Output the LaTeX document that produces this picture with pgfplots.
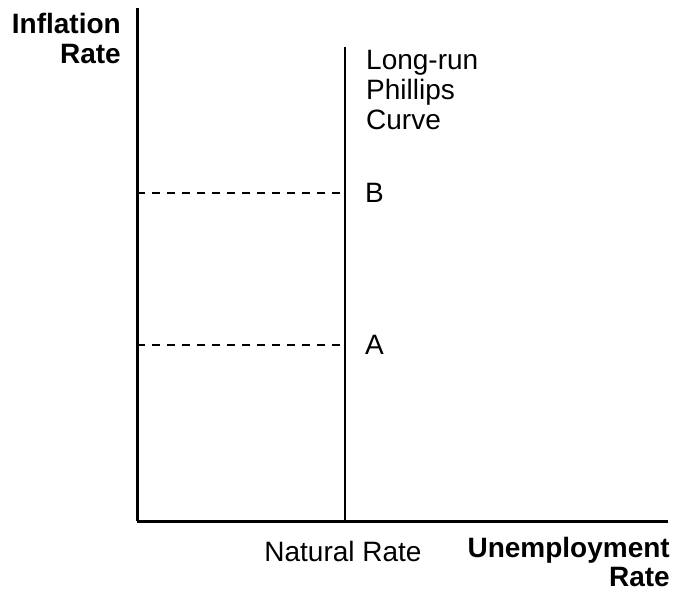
\documentclass[border=0pt]{standalone}
\usepackage{pgfplots}
\pgfplotsset{compat=1.18}
\usepackage{fontspec}
\setmainfont{Liberation Sans}
\begin{document}
\begin{tikzpicture}[x=1pt,y=1pt]
\begin{axis}[
  at={(0,0)}, anchor=south west,
  scale only axis, width=531pt, height=513pt,
  xmin=0, xmax=10, ymin=0, ymax=10,
  axis x line=bottom, axis y line=left,
  axis line style={line width=3pt, -},
  xtick=\empty, ytick=\empty,
  clip=false,
]
\addplot[line width=2.2pt, black] coordinates {(3.917,0) (3.917,9.24)};
\addplot[line width=2.2pt, black, dash pattern=on 8pt off 7pt] coordinates {(0,6.39) (3.917,6.39)};
\addplot[line width=2.2pt, black, dash pattern=on 8pt off 7pt] coordinates {(0,3.43) (3.917,3.43)};
\end{axis}
\fontsize{28}{31}\selectfont
\node[anchor=base east, inner sep=0, font=\bfseries] at (-16,487) {Inflation};
\node[anchor=base east, inner sep=0, font=\bfseries] at (-16,457) {Rate};
\node[anchor=base west, inner sep=0] at (229,451) {Long-run};
\node[anchor=base west, inner sep=0] at (229,421) {Phillips};
\node[anchor=base west, inner sep=0] at (229,391) {Curve};
\node[anchor=base west, inner sep=0] at (228,318) {B};
\node[anchor=base west, inner sep=0] at (228,166) {A};
\node[anchor=base, inner sep=0] at (206,-40) {Natural Rate};
\node[anchor=base east, inner sep=0, font=\bfseries] at (533,-36) {Unemployment};
\node[anchor=base east, inner sep=0, font=\bfseries] at (533,-65) {Rate};
\pgfresetboundingbox
\path[use as bounding box] (-137,-71) rectangle (538,521);
\end{tikzpicture}
\end{document}
